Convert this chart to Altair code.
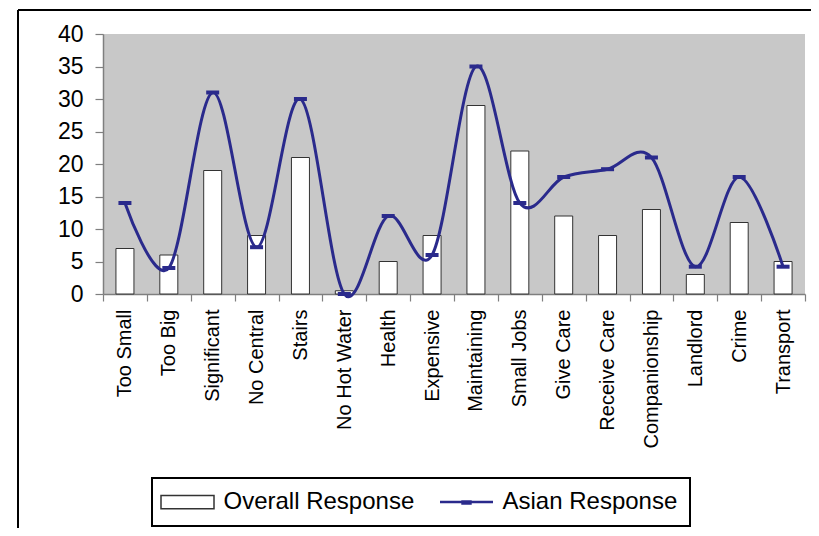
import altair as alt
import pandas as pd

categories = ["Too Small", "Too Big", "Significant", "No Central", "Stairs",
              "No Hot Water", "Health", "Expensive", "Maintaining", "Small Jobs",
              "Give Care", "Receive Care", "Companionship", "Landlord", "Crime",
              "Transport"]
overall = [7, 6, 19, 9, 21, 0.5, 5, 9, 29, 22, 12, 9, 13, 3, 11, 5]
asian = [14, 4, 31, 7.2, 30, 0, 12, 6, 35, 14, 18, 19.2, 21, 4.2, 18, 4.2]
series_names = ["Overall Response", "Asian Response"]
y_ticks = [0, 5, 10, 15, 20, 25, 30, 35, 40]

NAVY = "#2a2a8c"
FONT = "Liberation Sans"

df_over = pd.DataFrame({"cat": categories, "value": overall, "series": series_names[0]})
df_asian = pd.DataFrame({"cat": categories, "value": asian, "series": series_names[1]})
df_one = pd.DataFrame({"a": [0]})

x_enc = alt.X("cat:N", sort=categories, title=None,
              scale=alt.Scale(paddingInner=0, paddingOuter=0),
              axis=alt.Axis(labelAngle=-90, labelFont=FONT, labelFontSize=20,
                            labelColor="black", labelPadding=8, tickSize=7,
                            tickBand="extent", tickColor="#7f7f7f",
                            domainColor="#7f7f7f", domainWidth=1.5, tickWidth=1.2))
y_enc = alt.Y("value:Q", title=None,
              scale=alt.Scale(domain=[0, 40], nice=False),
              axis=alt.Axis(values=y_ticks, tickCount=9, grid=False, labelFont=FONT,
                            labelFontSize=23, labelColor="black", labelPadding=12,
                            labelOverlap=False, labelFlush=False,
                            tickSize=8, tickColor="#7f7f7f", domainColor="#7f7f7f",
                            domainWidth=1.5, tickWidth=1.2))

is_over = "datum.value === 'Overall Response'"
legend = alt.Legend(
    title=None, orient="none", legendX=49, legendY=444, direction="horizontal",
    labelFont=FONT, labelFontSize=24, labelColor="black", labelLimit=0,
    labelOffset=24, symbolOffset=11.5,
    columnPadding=20, padding=12, strokeColor="black", symbolSize=2809,
    symbolType=alt.ExprRef(expr=f"{is_over} ? 'M-1,-0.25H1V0.25H-1Z' : 'M-1,0H1M-0.15,-0.02H0.15V0.06H-0.15Z'"),
    symbolFillColor=alt.ExprRef(expr=f"{is_over} ? 'white' : '{NAVY}'"),
    symbolStrokeWidth=alt.ExprRef(expr=f"{is_over} ? 1.5 : 2.5"),
    symbolOpacity=1,
)
stroke_enc = alt.Stroke("series:N",
                        scale=alt.Scale(domain=series_names, range=["#333333", NAVY]),
                        legend=legend)

bars = alt.Chart(df_over).mark_bar(fill="white", strokeWidth=1, width=18).encode(
    x=x_enc, y=y_enc, stroke=stroke_enc)

line = alt.Chart(df_asian).mark_line(strokeWidth=3, interpolate="cardinal").encode(
    x=x_enc, y=y_enc, stroke=stroke_enc)

markers = alt.Chart(df_asian).mark_tick(color=NAVY, thickness=4, size=13, opacity=1).encode(
    x=x_enc, y=y_enc)

frame_top = alt.Chart(df_one).mark_rule(color="black", strokeWidth=2, clip=False).encode(
    x=alt.value(-85), x2=alt.value(710), y=alt.value(-24))
frame_left = alt.Chart(df_one).mark_rule(color="black", strokeWidth=2, clip=False).encode(
    x=alt.value(-85), y=alt.value(-24), y2=alt.value(500))

chart = alt.layer(bars, line, markers, frame_top, frame_left).properties(
    width=702, height=260,
    autosize=alt.AutoSizeParams(type="none"),
    padding={"left": 95, "top": 26, "right": 6, "bottom": 234},
).configure_view(fill="#c8c8c8", stroke=None).configure_legend(strokeWidth=2)

chart.save("out.html", embed_options={"renderer": "svg", "actions": False})
